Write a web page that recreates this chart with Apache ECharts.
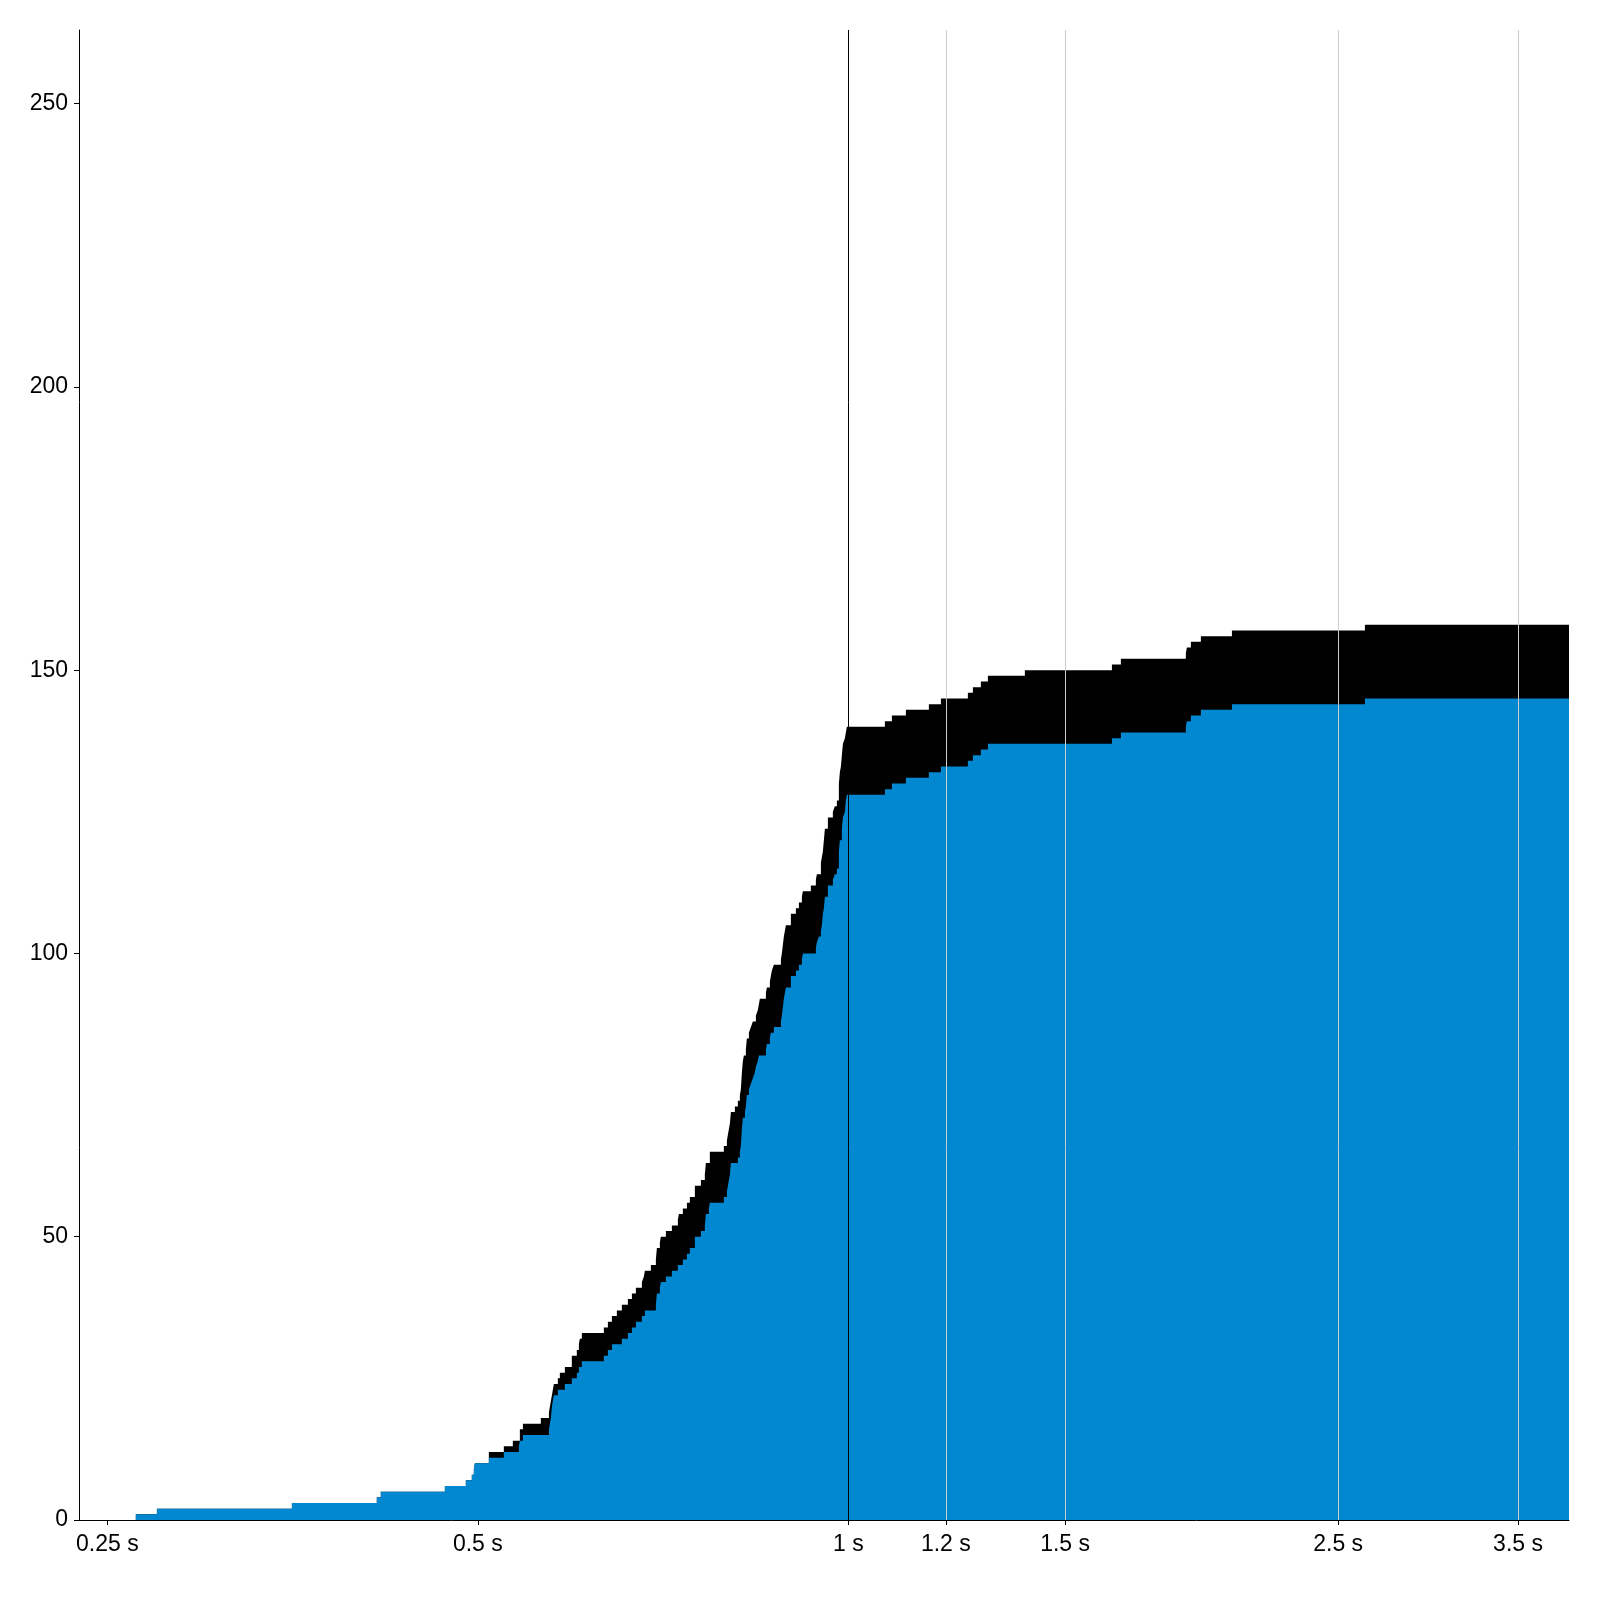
<!DOCTYPE html>
<html>
<head>
<meta charset="utf-8">
<script src="https://cdn.jsdelivr.net/npm/echarts@6/dist/echarts.min.js"></script>
<style>html,body{margin:0;padding:0;background:#fff}#c{width:1600px;height:1600px}</style>
</head>
<body>
<div id="c"></div>
<script>
// x tick labels (seconds, log axis)
const xTickValues = [0.25, 0.5, 1, 1.2, 1.5, 2.5, 3.5];
const grayLineValues = [1.2, 1.5, 2.5, 3.5];
const blackLineValue = 1;
const yTickInterval = 50;
const xMin = 0.2371, xMax = 3.85, yMax = 263;

// blue series: cumulative count steps [time s, count]
const blueSteps = [[0.2637,1],[0.2743,2],[0.3531,3],[0.4139,4],[0.4170,5],[0.4701,6],[0.4889,7],[0.4944,8],[0.4963,9],[0.4972,10],[0.5104,11],[0.5249,12],[0.5399,13],[0.5409,14],[0.5440,15],[0.5711,16],[0.5732,18],[0.5743,20],[0.5753,21],[0.5764,22],[0.5807,23],[0.5884,24],[0.5961,25],[0.6017,26],[0.6040,27],[0.6074,28],[0.6329,29],[0.6377,30],[0.6425,31],[0.6546,32],[0.6620,33],[0.6670,34],[0.6720,35],[0.6796,36],[0.6834,37],[0.6976,38],[0.6989,40],[0.7028,41],[0.7041,42],[0.7108,43],[0.7188,44],[0.7269,45],[0.7337,46],[0.7393,47],[0.7434,48],[0.7504,50],[0.7589,51],[0.7645,52],[0.7660,54],[0.7703,55],[0.7717,56],[0.7922,57],[0.7967,58],[0.7982,59],[0.7997,60],[0.8012,61],[0.8027,63],[0.8132,64],[0.8163,65],[0.8178,66],[0.8194,69],[0.8209,71],[0.8240,72],[0.8255,73],[0.8270,75],[0.8302,76],[0.8333,77],[0.8364,78],[0.8395,79],[0.8411,80],[0.8442,81],[0.8458,82],[0.8570,83],[0.8586,84],[0.8634,85],[0.8650,86],[0.8699,87],[0.8814,88],[0.8830,89],[0.8863,92],[0.8880,93],[0.8897,94],[0.8980,96],[0.9065,97],[0.9116,98],[0.9167,99],[0.9184,100],[0.9410,101],[0.9428,102],[0.9463,103],[0.9499,104],[0.9516,105],[0.9534,107],[0.9552,108],[0.9570,110],[0.9624,112],[0.9714,113],[0.9750,114],[0.9787,115],[0.9824,118],[0.9842,120],[0.9879,122],[0.9898,124],[0.9935,125],[0.9953,127],[0.9972,128],[1.0707,129],[1.0848,130],[1.1136,131],[1.1625,132],[1.1890,133],[1.2505,134],[1.2623,135],[1.2813,136],[1.2982,137],[1.6372,138],[1.6649,139],[1.8801,140],[1.8837,141],[1.8978,142],[1.9337,143],[2.0493,144],[2.6282,145],[3.85,145]];

// black series: top edge of the stacked black band (blue + black) [time s, count]
const totalSteps = [[0.2637,1],[0.2743,2],[0.3531,3],[0.4139,4],[0.4170,5],[0.4701,6],[0.4889,7],[0.4944,8],[0.4963,9],[0.4972,10],[0.5104,12],[0.5249,13],[0.5338,14],[0.5409,16],[0.5440,17],[0.5625,18],[0.5711,19],[0.5732,21],[0.5743,22],[0.5764,24],[0.5807,25],[0.5829,26],[0.5884,27],[0.5961,29],[0.6017,30],[0.6040,31],[0.6051,32],[0.6074,33],[0.6329,34],[0.6377,35],[0.6425,36],[0.6485,37],[0.6546,38],[0.6620,39],[0.6670,40],[0.6720,41],[0.6796,42],[0.6821,43],[0.6834,44],[0.6911,45],[0.6976,46],[0.6989,48],[0.7028,49],[0.7041,50],[0.7108,51],[0.7188,52],[0.7269,53],[0.7283,54],[0.7337,55],[0.7393,56],[0.7434,57],[0.7504,59],[0.7589,60],[0.7645,61],[0.7660,63],[0.7717,65],[0.7922,66],[0.7967,67],[0.7982,68],[0.7997,69],[0.8012,70],[0.8027,72],[0.8087,73],[0.8132,74],[0.8163,75],[0.8178,76],[0.8194,79],[0.8209,81],[0.8224,82],[0.8255,83],[0.8270,85],[0.8302,86],[0.8333,87],[0.8364,88],[0.8411,89],[0.8442,90],[0.8458,91],[0.8474,92],[0.8570,93],[0.8586,94],[0.8634,95],[0.8650,96],[0.8667,97],[0.8699,98],[0.8814,99],[0.8830,100],[0.8863,103],[0.8880,104],[0.8897,105],[0.8980,107],[0.9065,108],[0.9116,109],[0.9167,110],[0.9184,111],[0.9322,112],[0.9410,113],[0.9428,114],[0.9499,116],[0.9516,117],[0.9534,118],[0.9552,120],[0.9570,122],[0.9624,124],[0.9714,125],[0.9750,126],[0.9787,127],[0.9824,130],[0.9842,132],[0.9861,133],[0.9879,135],[0.9898,137],[0.9935,138],[0.9953,139],[0.9972,140],[1.0707,141],[1.0848,142],[1.1136,143],[1.1625,144],[1.1890,145],[1.2505,146],[1.2623,147],[1.2813,148],[1.2982,149],[1.3912,150],[1.6372,151],[1.6649,152],[1.8801,153],[1.8837,154],[1.8978,155],[1.9337,156],[2.0493,157],[2.6282,158],[3.85,158]];

const FONT = 'Liberation Sans, Arial, Helvetica, sans-serif';
const chart = echarts.init(document.getElementById('c'), null, {renderer: 'canvas'});

const markLineData = grayLineValues.map(v => ({xAxis: v, lineStyle: {color: '#cccccc', width: 1, type: 'solid'}}))
  .concat([{xAxis: blackLineValue, lineStyle: {color: '#000000', width: 1, type: 'solid'}}]);

chart.setOption({
  animation: false,
  backgroundColor: '#ffffff',
  grid: {left: 79, right: 31, top: 30, bottom: 80, containLabel: false, outerBoundsMode: 'none'},
  xAxis: {
    type: 'log',
    logBase: 2,
    min: xMin,
    max: xMax,
    axisLine: {show: true, lineStyle: {color: '#000', width: 1}},
    axisTick: {show: true, inside: false, length: 5, lineStyle: {color: '#000'}, customValues: xTickValues},
    axisLabel: {
      show: true, customValues: xTickValues, margin: 13,
      color: '#000', fontSize: 23, fontFamily: FONT,
      formatter: v => v + ' s'
    },
    splitLine: {show: false},
    minorTick: {show: false},
    minorSplitLine: {show: false}
  },
  yAxis: {
    type: 'value',
    min: 0,
    max: yMax,
    interval: yTickInterval,
    axisLine: {show: true, lineStyle: {color: '#000', width: 1}},
    axisTick: {show: true, inside: false, length: 5, lineStyle: {color: '#000'}},
    axisLabel: {show: true, margin: 11, color: '#000', fontSize: 23, fontFamily: FONT,
      showMaxLabel: false},
    splitLine: {show: false}
  },
  series: [
    {
      name: 'black',
      type: 'line',
      step: 'end',
      symbol: 'none',
      silent: true,
      data: totalSteps,
      lineStyle: {width: 0, color: '#000'},
      itemStyle: {color: '#000'},
      areaStyle: {color: '#000000', opacity: 1},
      z: 2
    },
    {
      name: 'blue',
      type: 'line',
      step: 'end',
      symbol: 'none',
      silent: true,
      data: blueSteps,
      lineStyle: {width: 0, color: '#0288d1'},
      itemStyle: {color: '#0288d1'},
      areaStyle: {color: '#0288d1', opacity: 1},
      z: 3,
      markLine: {
        silent: true,
        symbol: ['none', 'none'],
        label: {show: false},
        animation: false,
        data: markLineData,
        z: 10
      }
    }
  ]
});
</script>
</body>
</html>
